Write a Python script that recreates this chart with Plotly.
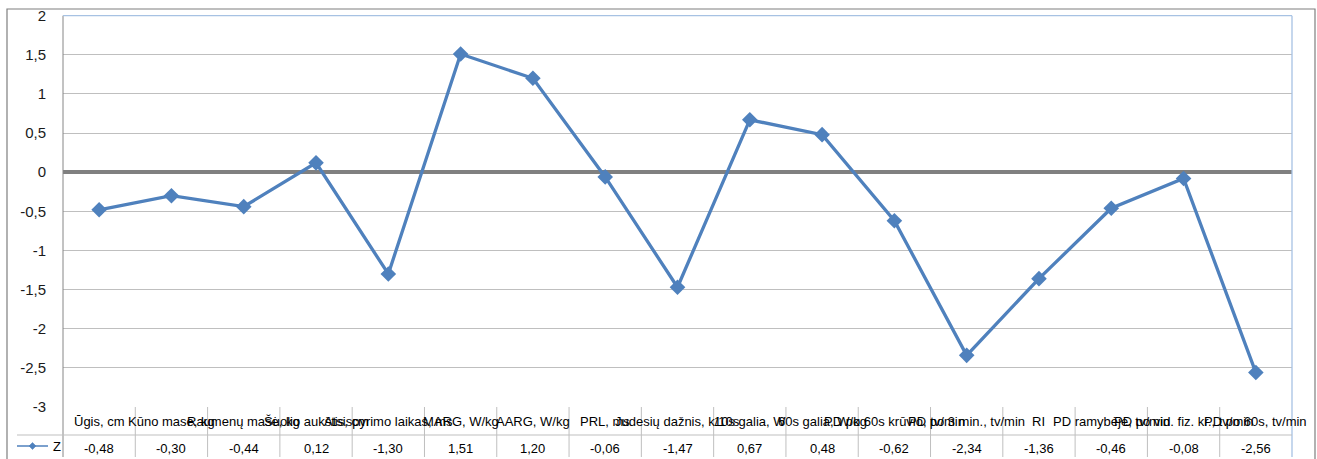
import plotly.graph_objects as go

# Indicators and their z-scores
categories = [
    "Ūgis, cm", "Kūno masė, kg", "Raumenų masė, kg", "Šuolio aukštis, cm",
    "Atsispyrimo laikas, ms", "MARG, W/kg", "AARG, W/kg", "PRL, ms",
    "Judesių dažnis, k/10s", "10s galia, W", "60s galia, W/kg",
    "PD po 60s krūvio, tv/min", "PD po 3 min., tv/min", "RI",
    "PD ramybėje, tv/min", "PD po vid. fiz. kr., tv/min", "PD po 60s, tv/min",
]
z_values = [-0.48, -0.30, -0.44, 0.12, -1.30, 1.51, 1.20, -0.06, -1.47,
            0.67, 0.48, -0.62, -2.34, -1.36, -0.46, -0.08, -2.56]
series_name = "Z"
y_ticks = [2, 1.5, 1, 0.5, 0, -0.5, -1, -1.5, -2, -2.5, -3]

W, H = 1317, 459
PX_L, PX_R = 63, 1292          # plot area, pixels
PX_T, PX_B = 15.7, 407         # y=2 and y=-3, pixels
ROW_SPLIT, TABLE_BOTTOM = 435, 457

def px_x(p):
    return p / W

def px_y(p):
    return 1 - p / H

FONT = "Liberation Sans"
LINE_BLUE = "#4F81BD"
GRID = "#BFBFBF"
n = len(categories)
xs = list(range(n))

fig = go.Figure()
fig.add_trace(go.Scatter(
    x=xs, y=z_values, mode="lines+markers", name=series_name,
    line=dict(color=LINE_BLUE, width=3.3),
    marker=dict(symbol="diamond", size=12, color=LINE_BLUE),
    cliponaxis=False,
))

shapes = []
# outer chart frame
shapes.append(dict(type="rect", xref="paper", yref="paper",
                   x0=px_x(7), x1=px_x(1315), y0=px_y(TABLE_BOTTOM + 4), y1=px_y(9),
                   line=dict(color="#7F7F7F", width=1.2)))
# left axis line running through the data table
shapes.append(dict(type="line", xref="paper", yref="paper",
                   x0=px_x(PX_L), x1=px_x(PX_L), y0=px_y(TABLE_BOTTOM), y1=px_y(PX_T),
                   line=dict(color="#868686", width=1)))
# plot area top and right edges
shapes.append(dict(type="line", xref="paper", yref="paper",
                   x0=px_x(PX_L), x1=px_x(PX_R), y0=px_y(PX_T), y1=px_y(PX_T),
                   line=dict(color="#A7C2E3", width=1.3)))
shapes.append(dict(type="line", xref="paper", yref="paper",
                   x0=px_x(PX_R), x1=px_x(PX_R), y0=px_y(TABLE_BOTTOM), y1=px_y(PX_T),
                   line=dict(color="#A7C2E3", width=1.3)))
# data table: row separator and column separators
shapes.append(dict(type="line", xref="paper", yref="paper",
                   x0=px_x(17), x1=px_x(PX_R), y0=px_y(ROW_SPLIT), y1=px_y(ROW_SPLIT),
                   line=dict(color=GRID, width=1)))
for k in range(1, n):
    shapes.append(dict(type="line", xref="x", yref="paper",
                       x0=k - 0.5, x1=k - 0.5, y0=px_y(TABLE_BOTTOM), y1=px_y(PX_B),
                       line=dict(color=GRID, width=1)))
# legend key in the table
shapes.append(dict(type="line", xref="paper", yref="paper",
                   x0=px_x(17), x1=px_x(48), y0=px_y(446), y1=px_y(446),
                   line=dict(color=LINE_BLUE, width=1.5)))
shapes.append(dict(type="path", xref="paper", yref="paper",
                   path=(f"M {px_x(32.5)},{px_y(442.5)} L {px_x(36)},{px_y(446)} "
                         f"L {px_x(32.5)},{px_y(449.5)} L {px_x(29)},{px_y(446)} Z"),
                   fillcolor=LINE_BLUE, line=dict(color=LINE_BLUE, width=0.5)))

annotations = []
for i, (c, v) in enumerate(zip(categories, z_values)):
    annotations.append(dict(x=i, y=px_y(421), xref="x", yref="paper", text=c,
                            showarrow=False, xanchor="center", yanchor="middle",
                            font=dict(family=FONT, size=13, color="#000000")))
    annotations.append(dict(x=i, y=px_y(448), xref="x", yref="paper",
                            text=f"{v:.2f}".replace(".", ","),
                            showarrow=False, xanchor="center", yanchor="middle",
                            font=dict(family=FONT, size=13, color="#000000")))
annotations.append(dict(x=px_x(51), y=px_y(446), xref="paper", yref="paper",
                        text=series_name, showarrow=False, xanchor="left",
                        yanchor="middle", font=dict(family=FONT, size=13, color="#000000")))

fig.update_layout(
    width=W, height=H,
    margin=dict(l=0, r=0, t=0, b=0, autoexpand=False),
    paper_bgcolor="white", plot_bgcolor="white",
    separators=", ",
    showlegend=False,
    shapes=shapes,
    annotations=annotations,
    xaxis=dict(domain=[px_x(PX_L), px_x(PX_R)], range=[-0.5, n - 0.5],
               showgrid=False, zeroline=False, showticklabels=False,
               showline=False, fixedrange=True, automargin=False),
    yaxis=dict(domain=[px_y(PX_B), px_y(PX_T)], range=[-3, 2],
               tickvals=y_ticks, ticktext=[f"{t:g}".replace(".", ",") for t in y_ticks],
               showgrid=True, gridcolor=GRID, gridwidth=1.3,
               zeroline=True, zerolinecolor="#808080", zerolinewidth=3.5,
               showline=False, ticks="", ticklabelstandoff=16,
               tickfont=dict(family=FONT, size=15, color="#1a1a1a"),
               fixedrange=True, automargin=False),
)

fig.write_html("out.html", config={"displayModeBar": False})
